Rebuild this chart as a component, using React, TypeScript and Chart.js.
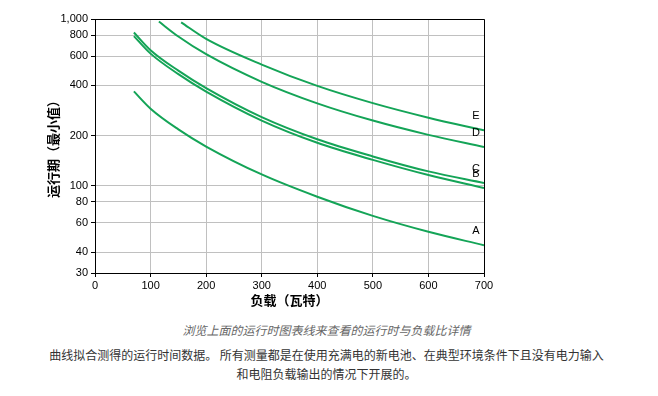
import React, { useEffect, useRef } from 'react';
import { Chart, registerables } from 'chart.js';

Chart.register(...registerables);

// ---- Data ----
const seriesNames = ['A', 'B', 'C', 'D', 'E'];
const loadA = [70, 100, 150, 200, 300, 400, 500, 600, 700];
const runtimeA = [368, 290, 218, 172, 117, 86, 66, 53, 44];
const loadB = [70, 100, 150, 200, 300, 400, 500, 600, 700];
const runtimeB = [790, 620, 467, 367, 246, 181, 143, 116, 97];
const loadC = [70, 100, 150, 200, 300, 400, 500, 600, 700];
const runtimeC = [830, 650, 490, 385, 258, 190, 150, 122, 104];
const loadD = [115, 150, 200, 300, 400, 500, 600, 700];
const runtimeD = [965, 785, 615, 420, 312, 246, 202, 171];
const loadE = [155, 200, 300, 400, 500, 600, 700];
const runtimeE = [955, 760, 533, 397, 313, 256, 215];
const yTicks = [30, 40, 60, 80, 100, 200, 400, 600, 800, 1000];
const xTitle = '负载（瓦特）';
const yTitle = '运行期（最小值）';
const captionText = '浏览上面的运行时图表线来查看的运行时与负载比详情';
const noteLine1 = '曲线拟合测得的运行时间数据。 所有测量都是在使用充满电的新电池、在典型环境条件下且没有电力输入';
const noteLine2 = '和电阻负载输出的情况下开展的。';

const loads = [loadA, loadB, loadC, loadD, loadE];
const runtimes = [runtimeA, runtimeB, runtimeC, runtimeD, runtimeE];

const LINE_COLOR = '#14a457';
const tickFont = { family: '"Liberation Sans", Arial, sans-serif', size: 11 };
const titleFont = { family: '"Noto Sans CJK SC", sans-serif', size: 13, weight: 'bold' as const };

const frameAndLabels = {
  id: 'frameAndLabels',
  afterDatasetsDraw(chart: any) {
    const { ctx, chartArea } = chart;
    ctx.save();
    ctx.strokeStyle = '#000';
    ctx.lineWidth = 1;
    const top = Math.round(chartArea.top) + 0.5;
    const right = Math.round(chartArea.right) + 0.5;
    ctx.beginPath();
    ctx.moveTo(Math.round(chartArea.left), top);
    ctx.lineTo(right, top);
    ctx.lineTo(right, Math.round(chartArea.bottom) + 1);
    ctx.stroke();

    ctx.font = '11px "Liberation Sans", Arial, sans-serif';
    ctx.fillStyle = '#000';
    ctx.textAlign = 'center';
    ctx.textBaseline = 'middle';
    chart.data.datasets.forEach((_: any, i: number) => {
      const meta = chart.getDatasetMeta(i);
      const last = meta.data[meta.data.length - 1];
      if (last) ctx.fillText(seriesNames[i], last.x - 8, last.y - 14);
    });
    ctx.restore();
  },
};

function RuntimeChart() {
  const ref = useRef<HTMLCanvasElement | null>(null);
  useEffect(() => {
    if (!ref.current) return;
    const chart = new Chart(ref.current, {
      type: 'line',
      data: {
        datasets: seriesNames.map((name, i) => ({
          label: name,
          data: loads[i].map((x, j) => ({ x, y: runtimes[i][j] })),
          borderColor: LINE_COLOR,
          backgroundColor: LINE_COLOR,
          borderWidth: 2,
          pointRadius: 0,
          fill: false,
          cubicInterpolationMode: 'monotone' as const,
        })),
      },
      options: {
        responsive: false,
        animation: false,
        layout: { padding: { left: 0, right: 166, top: 11, bottom: 0 } },
        plugins: { legend: { display: false }, tooltip: { enabled: false } },
        scales: {
          x: {
            type: 'linear',
            min: 0,
            max: 700,
            ticks: { stepSize: 100, font: tickFont, color: '#000', padding: 2, maxRotation: 0 },
            grid: { color: '#c0c0c0', tickColor: '#000', tickLength: 4 },
            border: { color: '#000' },
            title: { display: true, text: xTitle, font: titleFont, color: '#000', padding: { top: 0, bottom: 1 } },
            afterFit: (s: any) => { s.height = 36; },
          },
          y: {
            type: 'logarithmic',
            min: 30,
            max: 1000,
            afterBuildTicks: (s: any) => { s.ticks = yTicks.map((v) => ({ value: v })); },
            ticks: {
              font: tickFont,
              color: '#000',
              padding: 3,
              callback: (v: any) => Number(v).toLocaleString('en-US'),
            },
            grid: { color: '#c0c0c0', tickColor: '#000', tickLength: 4 },
            border: { color: '#000' },
            title: { display: true, text: yTitle, font: titleFont, color: '#000', padding: { top: 37, bottom: 0 } },
            afterFit: (s: any) => { s.width = 87; },
          },
        },
      },
      plugins: [frameAndLabels],
    } as any);
    return () => chart.destroy();
  }, []);
  return <canvas ref={ref} width={642} height={301} style={{ display: 'block', width: 642, height: 301 }} />;
}

export default function App() {
  const textFont = '"Noto Sans CJK SC", "Noto Sans", sans-serif';
  return (
    <div style={{ position: 'relative', width: 642, height: 378 }}>
      <div style={{ position: 'absolute', left: 0, top: 0 }}>
        <RuntimeChart />
      </div>
      <div
        style={{
          position: 'absolute', left: 0, top: 313, width: 637, textAlign: 'center',
          fontFamily: textFont, fontSize: 12, lineHeight: '18px', fontStyle: 'italic', color: '#666',
        }}
      >
        {captionText}
      </div>
      <div
        style={{
          position: 'absolute', left: 0, top: 338, width: 637, textAlign: 'center',
          fontFamily: textFont, fontSize: 12, lineHeight: '18.5px', color: '#333', whiteSpace: 'nowrap',
        }}
      >
        {noteLine1}
        <br />
        {noteLine2}
      </div>
      <div style={{ position: 'absolute', left: -8, top: 385, width: 658, height: 1, background: '#e6e6e6' }} />
    </div>
  );
}
